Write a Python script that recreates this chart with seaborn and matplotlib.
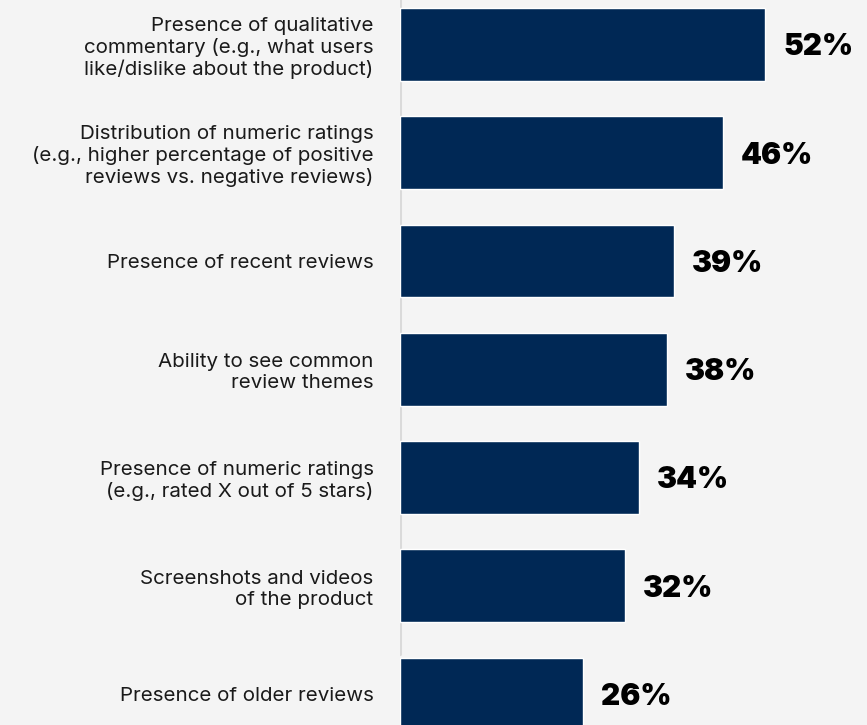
import matplotlib
matplotlib.use("Agg")
import matplotlib.pyplot as plt
import seaborn as sns
import pandas as pd

categories = [
    "Presence of qualitative\ncommentary (e.g., what users\nlike/dislike about the product)",
    "Distribution of numeric ratings\n(e.g., higher percentage of positive\nreviews vs. negative reviews)",
    "Presence of recent reviews",
    "Ability to see common\nreview themes",
    "Presence of numeric ratings\n(e.g., rated X out of 5 stars)",
    "Screenshots and videos\nof the product",
    "Presence of older reviews",
]
values = [52, 46, 39, 38, 34, 32, 26]
value_labels = ["52%", "46%", "39%", "38%", "34%", "32%", "26%"]

bg = "#f4f4f4"
bar_color = "#002855"

sns.set_theme(style="white")
plt.rcParams["font.family"] = ["Inter", "DejaVu Sans"]

df = pd.DataFrame({"item": categories, "share": values})

fig = plt.figure(figsize=(8.67, 7.25), dpi=100, facecolor=bg)
ax = fig.add_axes([400 / 867, 0, 467 / 867, 1])
ax.set_facecolor(bg)

sns.barplot(data=df, x="share", y="item", color=bar_color, saturation=1,
            width=0.674, ax=ax)

ax.set_xlim(0, 52 * 467 / 365)
ax.set_ylim(6.286, -0.411)

for s in ax.spines.values():
    s.set_visible(False)
ax.axvline(0, ymin=71 / 725, ymax=1, color="#dadada", lw=2.2, zorder=0.5)

ax.set_xlabel("")
ax.set_ylabel("")
ax.set_xticks([])
ax.tick_params(axis="y", length=0, pad=19, labelsize=14.8, labelcolor="#1a1a1a")
for t in ax.get_yticklabels():
    t.set_horizontalalignment("right")
    t.set_multialignment("right")
    t.set_linespacing(1.2)

for i, (v, lab) in enumerate(zip(values, value_labels)):
    ax.annotate(lab, xy=(v, i), xytext=(13, -2), textcoords="offset points",
                ha="left", va="center", fontsize=21.5, fontweight="black",
                color="#000000", family=["Inter", "DejaVu Sans"])

fig.savefig("out.png", dpi=100, facecolor=bg)
